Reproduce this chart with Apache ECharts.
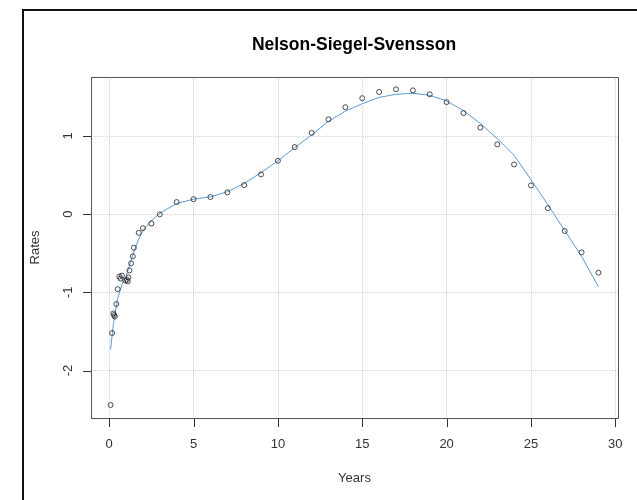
<!DOCTYPE html>
<html>
<head>
<meta charset="utf-8">
<script src="https://cdn.jsdelivr.net/npm/echarts@6/dist/echarts.min.js"></script>
<style>
  html, body { margin: 0; padding: 0; background: #fff; }
  #chart { width: 637px; height: 500px; }
</style>
</head>
<body>
<div id="chart"></div>
<script>
// observed yields
var years = [0.08, 0.17, 0.25, 0.29, 0.33, 0.42, 0.5, 0.6, 0.67, 0.75, 0.95, 1.05, 1.1, 1.14,
    1.2, 1.3, 1.4, 1.46, 1.75, 2, 2.5, 3, 4, 5, 6, 7, 8, 9, 10, 11, 12, 13, 14, 15, 16, 17,
    18, 19, 20, 21, 22, 23, 24, 25, 26, 27, 28, 29];
var rates = [-2.44, -1.52, -1.27, -1.29, -1.31, -1.15, -0.96, -0.80, -0.825, -0.787, -0.85, -0.838, -0.86, -0.81,
    -0.72, -0.63, -0.54, -0.43, -0.24, -0.18, -0.12, -0.005, 0.153, 0.19, 0.217, 0.277, 0.37, 0.506, 0.68, 0.855, 1.037, 1.21, 1.365, 1.48, 1.56, 1.594,
    1.58, 1.53, 1.43, 1.29, 1.105, 0.89, 0.634, 0.366, 0.075, -0.217, -0.49, -0.75];

// fitted NSS curve
var fitYears = [0.08, 0.25, 0.5, 0.75, 1, 1.25, 1.5, 1.75, 2, 2.5, 3, 4, 5, 6, 7, 8, 9, 10, 11, 12,
    13, 14, 15, 16, 17, 18, 19, 20, 21, 22, 23, 24, 25, 26, 27, 28, 29];
var fitRates = [-1.73, -1.40, -1.08, -0.905, -0.80, -0.62, -0.46, -0.32, -0.21, -0.085, 0.01, 0.135, 0.19, 0.22, 0.285, 0.39, 0.53, 0.68, 0.85, 1.01,
    1.186, 1.314, 1.41, 1.49, 1.53, 1.543, 1.518, 1.445, 1.32, 1.157, 0.965, 0.75, 0.44, 0.12, -0.21, -0.54, -0.93];

var xTicks = [0, 5, 10, 15, 20, 25, 30];
var yTicks = [-2, -1, 0, 1];

var xMin = -1.08, xMax = 30.16;
var yMin = -2.606, yMax = 1.751;

var myChart = echarts.init(document.getElementById('chart'));

var pts = [];
years.forEach(function (x, i) {
    pts.push([x, rates[i]]);
});
var fit = [];
fitYears.forEach(function (x, i) {
    fit.push([x, fitRates[i]]);
});

var font = 'Liberation Sans, Arial, sans-serif';

var options = {
    backgroundColor: '#fff',
    animation: false,
    title: {
        text: 'Nelson-Siegel-Svensson',
        left: 354,
        top: 36,
        padding: 0,
        textAlign: 'center',
        textStyle: { fontFamily: font, fontSize: 17.5, fontWeight: 'bold', color: '#000' }
    },
    grid: {
        left: 91,
        top: 77,
        right: 19,
        bottom: 82,
        show: false
    },
    xAxis: {
        type: 'value',
        min: xMin,
        max: xMax,
        name: 'Years',
        nameLocation: 'middle',
        nameGap: 54,
        nameTextStyle: { fontFamily: font, fontSize: 13, color: '#333' },
        axisLine: { show: false, onZero: false },
        axisTick: { show: false },
        axisLabel: { customValues: xTicks, margin: 20, fontFamily: font, fontSize: 13, color: '#333' },
        splitLine: { show: true, lineStyle: { color: '#d3d3d3', type: 'dotted', width: 1 } }
    },
    yAxis: {
        type: 'value',
        min: yMin,
        max: yMax,
        name: 'Rates',
        nameLocation: 'middle',
        nameGap: 49,
        nameRotate: 90,
        nameTextStyle: { fontFamily: font, fontSize: 13, color: '#333' },
        axisLine: { show: false, onZero: false },
        axisTick: { show: false },
        axisLabel: { customValues: yTicks, rotate: 90, margin: 16, fontFamily: font, fontSize: 13, color: '#333' },
        splitLine: { show: true, lineStyle: { color: '#d3d3d3', type: 'dotted', width: 1 } }
    },
    series: [
        {
            name: 'fitted',
            type: 'line',
            data: fit,
            showSymbol: false,
            lineStyle: { color: '#5b9bd5', width: 1 },
            z: 2
        },
        {
            name: 'observed',
            type: 'scatter',
            data: pts,
            symbol: 'circle',
            symbolSize: 5,
            itemStyle: { color: 'rgba(255,255,255,0)', borderColor: '#222', borderWidth: 1 },
            z: 3
        }
    ]
};

myChart.setOption(options);

// box, tick marks and outer frame, positioned through the chart's own scales
var toPx = function (v) {
    return myChart.convertToPixel({ gridIndex: 0 }, v);
};
var tl = toPx([xMin, yMax]);
var br = toPx([xMax, yMin]);
var bx = Math.round(tl[0]), by = Math.round(tl[1]);
var bw = Math.round(br[0] - tl[0]), bh = Math.round(br[1] - tl[1]);
var els = [{
    type: 'rect',
    shape: { x: 23, y: 10, width: 700, height: 600 },
    style: { fill: 'none', stroke: '#111', lineWidth: 2 },
    silent: true
}, {
    type: 'rect',
    shape: { x: bx + 0.5, y: by + 0.5, width: bw, height: bh },
    style: { fill: 'none', stroke: '#555', lineWidth: 1 },
    silent: true,
    z: 100
}];
xTicks.forEach(function (v) {
    var p = toPx([v, yMin]);
    els.push({
        type: 'rect',
        shape: { x: Math.round(p[0]), y: by + bh + 1, width: 1, height: 8 },
        style: { fill: '#333' },
        silent: true,
        z: 100
    });
});
yTicks.forEach(function (v) {
    var p = toPx([xMin, v]);
    els.push({
        type: 'rect',
        shape: { x: bx - 8, y: Math.round(p[1]), width: 8, height: 1 },
        style: { fill: '#333' },
        silent: true,
        z: 100
    });
});
myChart.setOption({ graphic: els });
</script>
</body>
</html>
